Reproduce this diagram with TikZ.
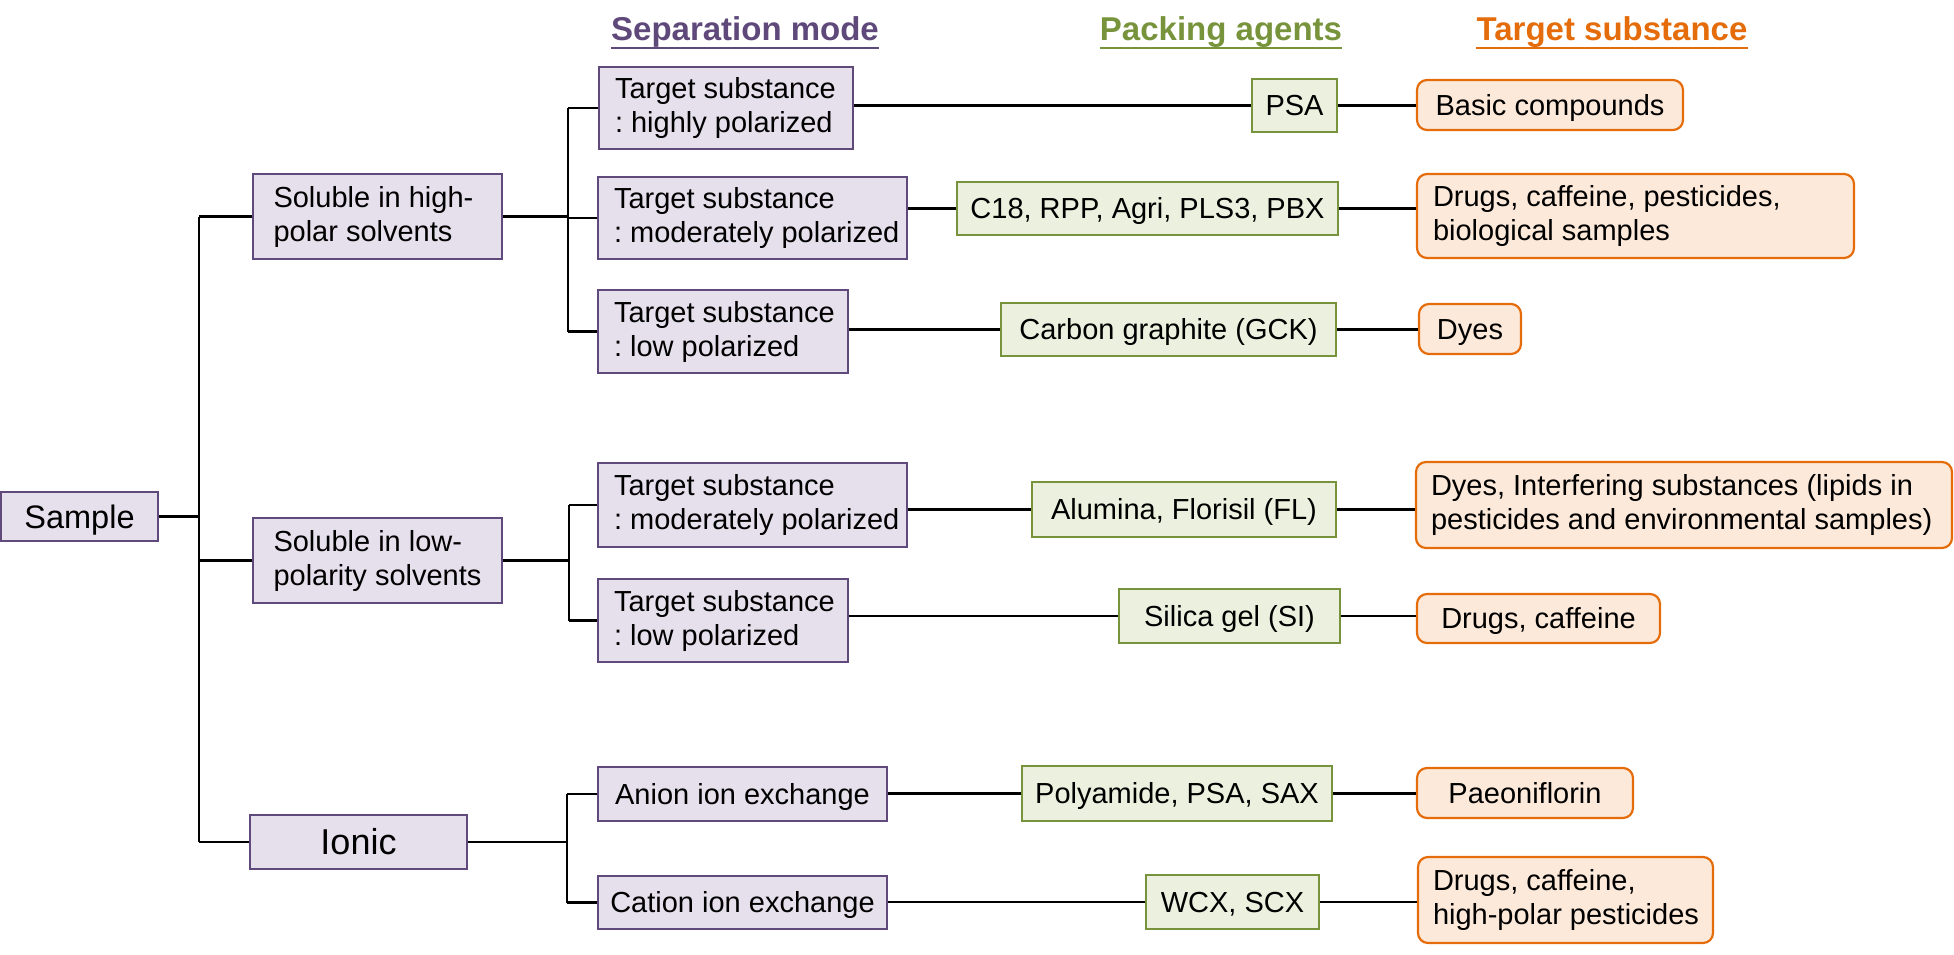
\documentclass[tikz,border=0pt]{standalone}
\usepackage{fontspec}
\setmainfont{Liberation Sans}
\usetikzlibrary{calc}
\frenchspacing
\newcommand{\Ln}[1]{\mbox{#1}}
\definecolor{pfill}{HTML}{E5E0EC}
\definecolor{pline}{HTML}{604A7B}
\definecolor{gfill}{HTML}{EBF1DE}
\definecolor{gline}{HTML}{77933C}
\definecolor{ofill}{HTML}{FDE9D9}
\definecolor{oline}{HTML}{E46C0A}
\definecolor{hpurple}{HTML}{5F497A}
\definecolor{hgreen}{HTML}{77933C}
\definecolor{horange}{HTML}{E46C0A}
\tikzset{
  base/.style={font=\fontsize{14.5}{17}\selectfont, inner sep=0pt, align=flush left, text=black},
  sz/.style n args={2}{minimum width=#1*0.5pt, minimum height=#2*0.5pt},
  one/.style={text height=10.4pt, text depth=0pt},
  lp/.style={text width=#1, align=flush left},
  pbox/.style={base, draw=pline, fill=pfill, line width=0.75pt},
  gbox/.style={base, draw=gline, fill=gfill, line width=0.75pt},
  obox/.style={base, draw=oline, fill=ofill, line width=1.1pt, rounded corners=5pt},
  conn/.style={line width=1.25pt, black},
  hdr/.style={font=\fontsize{16.5}{19}\selectfont\bfseries, inner sep=0pt, anchor=base},
}
\begin{document}
\begin{tikzpicture}[x=0.5pt,y=-0.5pt]
\useasboundingbox (0,0) rectangle (1954,954);
% headers
\node[hdr, text=hpurple] (h1) at (745,40) {Separation mode};
\node[hdr, text=hgreen] (h2) at (1221,40) {Packing agents};
\node[hdr, text=horange] (h3) at (1612,40) {Target substance};
\draw[hpurple, line width=1pt] ($(h1.base west)+(0,7.5)$) -- ($(h1.base east)+(0,7.5)$);
\draw[hgreen, line width=1pt] ($(h2.base west)+(0,7.5)$) -- ($(h2.base east)+(0,7.5)$);
\draw[horange, line width=1pt] ($(h3.base west)+(0,7.5)$) -- ($(h3.base east)+(0,7.5)$);
% level 0/1
\node[pbox, sz={157}{49}, font=\fontsize{16.25}{19}\selectfont, text height=11.6pt, text depth=0pt] (sample) at (79.5,516.5) {Sample};
\node[pbox, sz={249}{85}, lp=104pt] (sol1) at (377.5,216.5) {\Ln{Soluble in high-}\\\Ln{polar solvents}};
\node[pbox, sz={249}{85}, lp=104pt] (sol2) at (377.5,560.5) {\Ln{Soluble in low-}\\\Ln{polarity solvents}};
\node[pbox, sz={217}{54}, font=\fontsize{18}{21}\selectfont, text height=12.9pt, text depth=0pt] (ionic) at (358.5,842) {Ionic};
% level 2
\node[pbox, sz={254}{82}, lp=111pt] (ts1) at (726,108) {\Ln{Target substance}\\\Ln{: highly polarized}};
\node[pbox, sz={309}{82}, lp=138.5pt] (ts2) at (752.5,218) {\Ln{Target substance}\\\Ln{: moderately polarized}};
\node[pbox, sz={250}{83}, lp=109pt] (ts3) at (723,331.5) {\Ln{Target substance}\\\Ln{: low polarized}};
\node[pbox, sz={309}{84}, lp=138.5pt] (ts4) at (752.5,505) {\Ln{Target substance}\\\Ln{: moderately polarized}};
\node[pbox, sz={250}{83}, lp=109pt] (ts5) at (723,620.5) {\Ln{Target substance}\\\Ln{: low polarized}};
\node[pbox, one, sz={289}{54}] (an) at (742.5,794) {Anion ion exchange};
\node[pbox, one, sz={289}{53}] (ca) at (742.5,902.5) {Cation ion exchange};
% packing agents
\node[gbox, one, sz={85}{53}] (psa) at (1294.5,105.5) {PSA};
\node[gbox, one, sz={381}{53}] (c18) at (1147.5,208.5) {C18, RPP, Agri, PLS3, PBX};
\node[gbox, one, sz={335}{53}] (gck) at (1168.5,329.5) {Carbon graphite (GCK)};
\node[gbox, one, sz={304}{55}] (alu) at (1184,509.5) {Alumina, Florisil (FL)};
\node[gbox, one, sz={221}{54}] (sil) at (1229.5,616) {Silica gel (SI)};
\node[gbox, one, sz={310}{55}] (poly) at (1177,793.5) {Polyamide, PSA, SAX};
\node[gbox, one, sz={173}{54}] (wcx) at (1232.5,902) {WCX, SCX};
% targets
\node[obox, one, sz={266}{50}] (t1) at (1550,105) {Basic compounds};
\node[obox, sz={437}{84}, lp=202.5pt] (t2) at (1635.5,216) {\Ln{Drugs, caffeine, pesticides,}\\\Ln{biological samples}};
\node[obox, one, sz={102}{50}] (t3) at (1470,329) {Dyes};
\node[obox, sz={536}{86}, lp=253pt] (t4) at (1684,505) {\Ln{Dyes, Interfering substances (lipids in}\\\Ln{pesticides and environmental samples)}};
\node[obox, one, sz={243}{49}] (t5) at (1538.5,618.5) {Drugs, caffeine};
\node[obox, one, sz={216}{50}] (t6) at (1525,793) {Paeoniflorin};
\node[obox, sz={295}{86}, lp=132.5pt] (t7) at (1565.5,900) {\Ln{Drugs, caffeine,}\\\Ln{high-polar pesticides}};
% junction coordinates
\coordinate (j1) at (199,0);
\coordinate (j2) at (568,0);
\coordinate (j3) at (569,0);
\coordinate (j4) at (567,0);
% trunk
\draw[conn] (sample.east) -- (sample.east -| j1);
\draw[conn] (sol1.west -| j1) -- (ionic.west -| j1);
\draw[conn] (sol1.west -| j1) -- (sol1.west);
\draw[conn] (sol2.west -| j1) -- (sol2.west);
\draw[conn] (ionic.west -| j1) -- (ionic.west);
% branch 1
\draw[conn] (sol1.east) -- (sol1.east -| j2);
\draw[conn] (ts1.west -| j2) -- (ts3.west -| j2);
\draw[conn] (ts1.west -| j2) -- (ts1.west);
\draw[conn] (ts2.west -| j2) -- (ts2.west);
\draw[conn] (ts3.west -| j2) -- (ts3.west);
% branch 2
\draw[conn] (sol2.east) -- (sol2.east -| j3);
\draw[conn] (ts4.west -| j3) -- (ts5.west -| j3);
\draw[conn] (ts4.west -| j3) -- (ts4.west);
\draw[conn] (ts5.west -| j3) -- (ts5.west);
% branch 3
\draw[conn] (ionic.east) -- (ionic.east -| j4);
\draw[conn] (an.west -| j4) -- (ca.west -| j4);
\draw[conn] (an.west -| j4) -- (an.west);
\draw[conn] (ca.west -| j4) -- (ca.west);
% mode -> packing -> target
\draw[conn] (psa.west -| ts1.east) -- (psa.west);
\draw[conn] (psa.east) -- (psa.east -| t1.west);
\draw[conn] (c18.west -| ts2.east) -- (c18.west);
\draw[conn] (c18.east) -- (c18.east -| t2.west);
\draw[conn] (gck.west -| ts3.east) -- (gck.west);
\draw[conn] (gck.east) -- (gck.east -| t3.west);
\draw[conn] (alu.west -| ts4.east) -- (alu.west);
\draw[conn] (alu.east) -- (alu.east -| t4.west);
\draw[conn] (sil.west -| ts5.east) -- (sil.west);
\draw[conn] (sil.east) -- (sil.east -| t5.west);
\draw[conn] (poly.west -| an.east) -- (poly.west);
\draw[conn] (poly.east) -- (poly.east -| t6.west);
\draw[conn] (wcx.west -| ca.east) -- (wcx.west);
\draw[conn] (wcx.east) -- (wcx.east -| t7.west);
\end{tikzpicture}
\end{document}
